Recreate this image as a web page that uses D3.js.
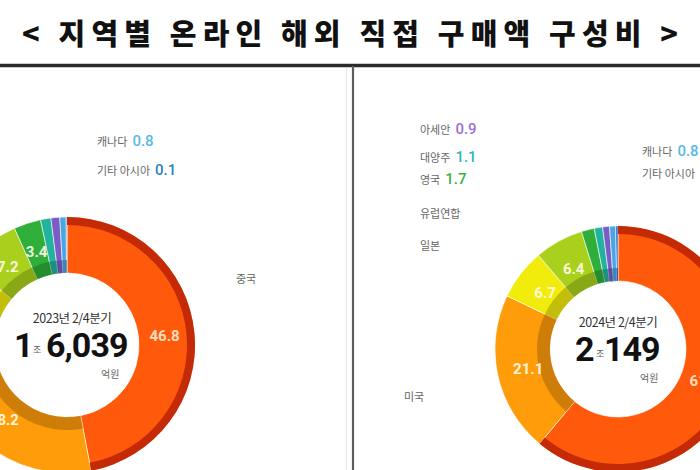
<!DOCTYPE html>
<html><head><meta charset="utf-8">
<script src="https://cdn.jsdelivr.net/npm/d3@7/dist/d3.min.js"></script>
<style>
html,body{margin:0;padding:0;background:#fff;}
svg{display:block;}
</style></head>
<body>
<script>
// ---- data ----
const regions   = ["중국","미국","유럽연합","일본","영국","대양주","아세안","캐나다","기타 아시아"];
const share2023 = [46.8, 28.2, 10.7, 7.2, 3.4, 1.3, 1.1, 0.8, 0.1];
const share2024 = [61.0, 21.1, 6.7, 6.4, 1.7, 1.1, 0.9, 0.8, 0.3];
const periods   = ["2023년 2/4분기", "2024년 2/4분기"];
const totalsJo  = ["1", "2"];
const totalsEok = ["6,039", "149"];
const title     = "< 지역별 온라인 해외 직접 구매액 구성비 >";
// side legend entries (region index, shown value or null)
const legend2023 = [[7, "0.8"], [8, "0.1"], [0, null]];
const legend2024 = [[6, "0.9"], [5, "1.1"], [4, "1.7"], [2, null], [3, null], [1, null], [7, "0.8"], [8, "0.1"]];

// ---- style ----
const colors    = ["#ff5a0c","#ff9c0a","#f1ec0c","#a9d01c","#2fae3a","#21b39e","#7b5cc6","#48a6e6","#2466c8"];
const legendCol = ["#444","#444","#444","#444","#3fae45","#2bb6c2","#a06ed2","#5ab8e4","#2f7fc8"];

const W = 700, H = 470;
const svg = d3.select("body").append("svg").attr("width", W).attr("height", H);

// title
svg.append("text").attr("x", 350).attr("y", 45).attr("text-anchor", "middle")
  .attr("font-family", "'Noto Sans CJK KR','Noto Sans',sans-serif").attr("font-weight", 900)
  .attr("font-size", 29).attr("fill", "#111")
  .attr("textLength", 656).attr("lengthAdjust", "spacing").text(title);

// frame lines
svg.append("line").attr("x1", 0).attr("x2", W).attr("y1", 65.5).attr("y2", 65.5)
  .attr("stroke", "#2a2a2a").attr("stroke-width", 3.5);
svg.append("line").attr("x1", 346.5).attr("x2", 346.5).attr("y1", 68).attr("y2", H)
  .attr("stroke", "#e6e6e6").attr("stroke-width", 1);
svg.append("line").attr("x1", 353).attr("x2", 353).attr("y1", 66).attr("y2", H)
  .attr("stroke", "#5a5f5c").attr("stroke-width", 2.2);

const pie = d3.pie().sort(null).value(d => d);
const font = "'Noto Sans CJK KR','Noto Sans',sans-serif";

function donut(shares, cfg) {
  const g = svg.append("g").attr("transform", `translate(${cfg.cx},${cfg.cy})`);
  const arcs = pie(shares);
  const main = d3.arc().innerRadius(cfg.rIn).outerRadius(cfg.rOut);
  const innerBand = d3.arc().innerRadius(cfg.rIn).outerRadius(cfg.rIn + 13);
  const rim = d3.arc().innerRadius(cfg.rOut - 8).outerRadius(cfg.rOut);
  g.selectAll("path.main").data(arcs).join("path").attr("class", "main")
    .attr("d", main).attr("fill", (d, i) => colors[i])
    .attr("stroke", "#fff").attr("stroke-width", 0.6);
  g.selectAll("path.band").data(arcs.filter(d => d.index > 0)).join("path").attr("class", "band")
    .attr("d", innerBand).attr("fill", d => d3.color(colors[d.index]).darker(0.9))
    .attr("opacity", 0.7);
  g.selectAll("path.rim").data(arcs.filter(d => d.index === 0)).join("path").attr("class", "rim")
    .attr("d", rim).attr("fill", "#c42a06");
  // value labels
  const lab = d3.arc().innerRadius(cfg.rLab).outerRadius(cfg.rLab);
  g.selectAll("text.val").data(arcs.filter(d => d.data >= 3)).join("text").attr("class", "val")
    .attr("transform", d => `translate(${lab.centroid(d)})`)
    .attr("text-anchor", "middle").attr("dy", "0.36em")
    .attr("font-family", "Roboto,'Noto Sans',sans-serif").attr("font-weight", 700)
    .attr("font-size", 15).attr("fill", d => d.index === 0 ? "#ffe6cc" : "#fffbe8")
    .attr("opacity", 0.92).text(d => d.data.toFixed(1));
  // centre text
  g.append("text").attr("x", cfg.pX).attr("y", -22).attr("text-anchor", "middle")
    .attr("font-family", font).attr("font-size", 12.5).attr("fill", "#333")
    .attr("letter-spacing", "-0.5").text(cfg.period);
  g.append("text").attr("x", cfg.joX).attr("y", 12).attr("font-family", "Roboto,sans-serif")
    .attr("font-weight", 700).attr("font-size", 34).attr("fill", "#111").text(cfg.jo);
  g.append("text").attr("x", cfg.joX + cfg.joW + 2).attr("y", 8).attr("font-family", font)
    .attr("font-size", 9).attr("fill", "#666").text("조");
  g.append("text").attr("x", cfg.eokX).attr("y", 12).attr("font-family", "Roboto,sans-serif")
    .attr("font-weight", 700).attr("font-size", 34).attr("fill", "#111")
    .attr("letter-spacing", "-1").text(cfg.eok);
  g.append("text").attr("x", cfg.wonX).attr("y", 33).attr("font-family", font)
    .attr("font-size", 10).attr("fill", "#666").text("억원");
}

donut(share2023, {cx: 67, cy: 345, rIn: 72, rOut: 128, rLab: 98,
  period: periods[0], jo: totalsJo[0], eok: totalsEok[0],
  pX: 5, joX: -53, joW: 17, eokX: -21, wonX: 34});
donut(share2024, {cx: 618, cy: 349, rIn: 68, rOut: 123, rLab: 92,
  period: periods[1], jo: totalsJo[1], eok: totalsEok[1],
  pX: 0, joX: -43, joW: 19, eokX: -14, wonX: 22});

// side legends
function legendAt(items, positions) {
  items.forEach((it, k) => {
    const [ri, val] = it, p = positions[k];
    const t = svg.append("text").attr("x", p[0]).attr("y", p[1]).attr("dy", "0.35em")
      .attr("font-family", font);
    t.append("tspan").attr("font-size", 11).attr("fill", "#666").text(regions[ri]);
    if (val !== null) {
      t.append("tspan").attr("dx", 5).attr("font-family", "Roboto,sans-serif")
        .attr("font-weight", 500).attr("font-size", 15).attr("fill", legendCol[ri]).text(val);
    }
  });
}
legendAt(legend2023, [[97, 140], [97, 169], [236, 277]]);
legendAt(legend2024, [[420, 128], [420, 156], [420, 178], [420, 212], [420, 244], [404, 395], [642, 150], [642, 172]]);
</script>
</body></html>
